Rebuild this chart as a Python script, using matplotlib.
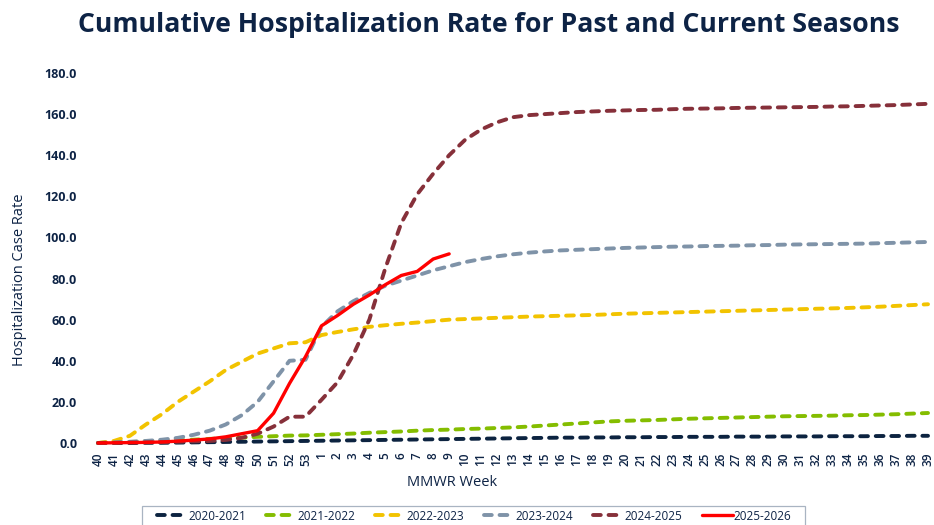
import matplotlib
matplotlib.use("Agg")
import matplotlib.pyplot as plt
from matplotlib.patches import Rectangle

weeks = [str(w) for w in range(40, 54)] + [str(w) for w in range(1, 40)]

s2020 = [0.0, 0.0, 0.0, 0.1, 0.1, 0.2, 0.3, 0.4, 0.5, 0.6, 0.7, 0.8, 0.9, 1.0, 1.1, 1.2, 1.3, 1.4, 1.5, 1.6, 1.7, 1.8, 1.9,
         2.0, 2.1, 2.2, 2.3, 2.4, 2.5, 2.6, 2.6, 2.7, 2.7, 2.8, 2.8, 2.9, 2.9, 3.0, 3.0, 3.0, 3.1, 3.1, 3.1, 3.2, 3.2, 3.2,
         3.3, 3.3, 3.3, 3.4, 3.4, 3.5, 3.5]
s2021 = [0.0, 0.3, 0.5, 0.8, 1.0, 1.3, 1.6, 2.0, 2.3, 2.6, 3.0, 3.3, 3.6, 3.7, 4.0, 4.3, 4.6, 5.0, 5.3, 5.6, 6.0, 6.3, 6.5,
         6.8, 7.0, 7.3, 7.6, 8.0, 8.5, 9.0, 9.5, 10.0, 10.5, 10.8, 11.0, 11.2, 11.5, 11.8, 12.0, 12.2, 12.4, 12.6, 12.8,
         13.0, 13.1, 13.2, 13.3, 13.5, 13.6, 13.8, 14.0, 14.3, 14.6]
s2022 = [0.0, 1.0, 3.5, 9.0, 14.0, 20.0, 25.0, 30.0, 35.5, 39.5, 43.5, 46.0, 48.5, 49.0, 52.5, 54.0, 55.3, 56.5, 57.3, 58.0,
         58.6, 59.3, 60.0, 60.3, 60.6, 60.9, 61.2, 61.5, 61.7, 61.9, 62.1, 62.3, 62.6, 62.9, 63.1, 63.3, 63.5, 63.7, 63.9,
         64.1, 64.3, 64.5, 64.7, 64.9, 65.1, 65.3, 65.5, 65.7, 66.0, 66.3, 66.7, 67.1, 67.5]
s2023 = [0.0, 0.3, 0.6, 1.0, 1.6, 2.5, 4.0, 6.0, 9.0, 13.5, 20.0, 30.0, 40.0, 40.5, 56.5, 64.0, 69.0, 73.0, 76.5, 79.0,
         81.5, 84.0, 86.0, 88.0, 89.5, 90.8, 91.8, 92.6, 93.2, 93.7, 94.0, 94.3, 94.6, 94.9, 95.1, 95.3, 95.5, 95.6, 95.8,
         95.9, 96.0, 96.2, 96.3, 96.5, 96.6, 96.7, 96.8, 96.9, 97.0, 97.2, 97.4, 97.6, 97.8]
s2024 = [0.0, 0.1, 0.2, 0.3, 0.4, 0.6, 0.8, 1.0, 1.5, 2.5, 4.5, 8.0, 12.8, 12.8, 21.0, 29.5, 43.0, 60.0, 85.0, 107.0,
         121.0, 131.0, 140.0, 147.5, 152.5, 156.0, 158.5, 159.5, 160.0, 160.5, 161.0, 161.3, 161.6, 161.8, 162.0, 162.1,
         162.4, 162.6, 162.7, 162.8, 163.0, 163.1, 163.2, 163.3, 163.4, 163.5, 163.7, 163.8, 164.0, 164.2, 164.4, 164.7,
         165.0]
s2025 = [0.0, 0.1, 0.2, 0.3, 0.5, 0.9, 1.4, 2.0, 3.0, 4.5, 6.0, 14.5, 29.0, 42.0, 57.0, 62.0, 67.5, 72.0, 77.0, 81.5,
         83.5, 89.5, 92.0]

series = [
    ("2020-2021", s2020, "#0c2340", "dash"),
    ("2021-2022", s2021, "#84bd00", "dash"),
    ("2022-2023", s2022, "#f2c300", "dash"),
    ("2023-2024", s2023, "#7f93a8", "dash"),
    ("2024-2025", s2024, "#86303a", "dash"),
    ("2025-2026", s2025, "#ff0000", "solid"),
]

navy = "#0d2345"
W, H = 934, 525
fig = plt.figure(figsize=(W / 100, H / 100), dpi=100)
ax = fig.add_axes([98 / W, 1 - 443 / H, (928 - 98) / W, (443 - 73) / H])

for name, vals, col, sty in series:
    xs = list(range(len(vals)))
    if sty == "dash":
        ax.plot(xs, vals, color=col, lw=2.8, dashes=(2.0, 2.0), dash_capstyle="round",
                label=name, clip_on=False, zorder=2)
    else:
        ax.plot(xs, vals, color=col, lw=2.4, solid_capstyle="round", label=name,
                clip_on=False, zorder=3)

ax.set_xlim(0, len(weeks) - 1)
ax.set_ylim(0, 180)
ax.set_yticks(range(0, 181, 20))
ax.set_yticklabels([f"{v:.1f}" for v in range(0, 181, 20)], fontsize=9, fontweight="bold",
                   color=navy, family="Open Sans")
ax.set_xticks(range(len(weeks)))
ax.set_xticklabels(weeks, rotation=90, fontsize=8.5, color=navy, family="Open Sans",
                   fontweight="semibold")
ax.tick_params(axis="y", length=0, pad=15)
ax.tick_params(axis="x", length=0, pad=7)
for sp in ax.spines.values():
    sp.set_visible(False)

ax.set_ylabel("Hospitalization Case Rate", fontsize=10.5, color=navy, family="Open Sans")
ax.yaxis.label.set_va("center")
ax.yaxis.set_label_coords((20 - 98) / 830, (443 - 280) / 370)
ax.set_xlabel("MMWR Week", fontsize=10.5, color=navy, family="Open Sans")
ax.xaxis.set_label_coords((452 - 98) / 830, (443 - 483) / 370)
ax.xaxis.label.set_va("center")

fig.text(489 / W, 1 - 25 / H, "Cumulative Hospitalization Rate for Past and Current Seasons",
         ha="center", va="center", fontsize=19.2, fontweight="bold", color=navy, family="Open Sans")

# legend frame (extends past the bottom edge as in the reference)
fig.patches.append(Rectangle((142 / W, -10 / H), (805 - 142) / W, (525 - 506 + 10) / H,
                             transform=fig.transFigure, fill=False, edgecolor="#a9b4c2",
                             linewidth=0.9, figure=fig))
leg = fig.legend(loc="center", bbox_to_anchor=(474 / W, 1 - 516 / H), ncol=6,
                 frameon=False, handlelength=2.6, columnspacing=1.7, handletextpad=0.05,
                 borderpad=0.0, prop={"family": "Open Sans", "size": 8.5})
for t in leg.get_texts():
    t.set_color(navy)

fig.savefig("out.png", dpi=100)
